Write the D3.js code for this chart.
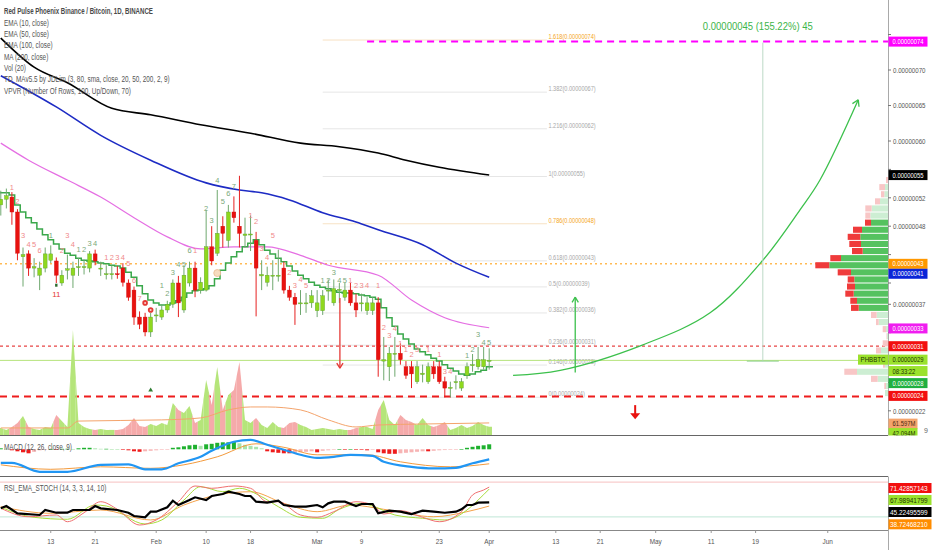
<!DOCTYPE html>
<html>
<head>
<meta charset="utf-8">
<script src="https://cdn.jsdelivr.net/npm/d3@7"></script>
<style>
  body { margin: 0; background: #fff; }
  svg { display: block; font-family: "Liberation Sans", Arial, sans-serif; }
</style>
</head>
<body>
<svg id="chart" width="932" height="550"></svg>
<script>
// day 0 = 2020-01-04, one candle per day, prices in satoshi
var START = Date.UTC(2020, 0, 4);

var opens = [51.0,51.8,52.1,50.0,43.7,44.1,42.1,41.1,42.1,43.2,
  43.1,40.0,41.8,41.1,42.2,42.2,42.1,44.1,42.0,41.2,
  41.3,41.3,42.1,40.0,39.0,35.2,35.2,33.1,35.4,35.2,
  36.2,37.0,40.0,36.2,40.0,42.1,39.0,39.0,45.1,44.2,
  48.0,46.0,50.0,48.0,46.7,46.8,46.0,41.0,40.1,41.0,
  41.0,42.1,39.0,38.0,37.1,37.1,37.2,36.1,36.1,38.9,
  37.2,39.0,38.0,39.0,37.2,37.1,36.1,36.1,37.2,29.0,
  28.2,30.0,30.1,28.2,28.2,26.1,27.1,26.1,28.2,28.2,
  26.1,25.2,26.0,25.2,27.0,28.4,28.2,28.2,29.0];
var highs = [53.0,53.3,52.8,50.4,45.0,44.6,43.5,43.0,45.0,45.3,
  43.6,41.8,44.0,43.0,43.5,43.3,44.5,44.7,43.0,42.5,
  42.5,42.4,42.8,40.5,39.5,36.0,35.8,35.8,36.5,37.0,
  37.5,40.5,41.0,42.5,43.0,43.0,40.8,50.3,48.0,53.1,
  49.4,51.0,52.2,55.1,49.2,49.5,47.2,43.2,42.3,43.2,
  44.7,43.0,39.6,38.6,39.0,38.6,39.0,39.0,39.0,40.5,
  40.5,40.0,40.0,40.0,38.5,38.5,38.0,38.0,38.0,32.4,
  31.0,32.4,31.5,29.0,29.0,29.0,28.5,28.8,29.0,29.0,
  26.8,26.1,27.0,26.6,28.8,30.0,31.0,31.0,30.8];
var lows = [49.5,50.5,48.2,43.2,39.5,41.0,40.8,39.0,41.5,42.8,
  40.0,39.6,40.5,39.3,41.0,41.2,41.5,42.5,41.0,40.5,
  40.5,40.6,39.5,37.5,34.1,33.5,32.5,32.4,34.5,34.8,
  35.8,36.5,35.2,35.8,39.5,38.0,38.5,38.8,42.5,43.8,
  45.0,45.0,48.5,45.0,45.0,44.5,35.3,39.0,39.5,39.0,
  40.2,38.5,37.5,34.1,35.5,35.8,36.5,35.2,35.5,37.5,
  36.8,37.2,37.5,36.8,35.2,36.0,35.5,35.5,26.8,26.3,
  26.2,26.8,28.5,26.5,25.2,25.8,26.0,25.8,26.5,25.8,
  23.9,23.9,25.0,24.8,26.5,27.5,27.8,27.8,27.8];
var closes = [51.8,52.3,50.0,44.2,44.0,42.1,42.3,42.1,44.1,44.1,
  41.1,41.1,42.0,42.1,42.3,42.3,44.1,43.1,42.1,41.3,
  41.3,41.2,40.1,38.0,35.2,34.2,33.1,35.2,35.5,36.2,
  37.0,40.0,37.2,41.1,42.1,39.0,40.1,45.1,43.1,47.0,
  47.0,50.0,49.2,47.0,46.9,46.9,42.1,41.2,41.1,41.1,
  41.1,39.0,38.0,37.0,37.2,37.2,38.2,37.2,38.2,39.0,
  39.2,39.1,39.0,37.2,36.2,37.2,37.2,37.2,29.2,29.2,
  30.1,30.1,29.2,27.0,27.2,28.2,27.3,28.2,27.2,26.1,
  25.2,25.3,26.1,26.1,28.2,28.5,29.2,29.2,29.1];
// volume, millions
var volumes = [36,26,41,61,97,41,31,26,41,36,
  102,71,41,536,61,41,31,26,31,26,
  26,26,31,51,87,46,41,56,46,61,
  51,163,128,112,148,61,77,281,153,347,
  128,204,230,372,77,61,87,51,36,66,
  41,36,61,66,51,41,26,31,36,31,
  26,31,26,26,36,41,41,31,128,179,
  77,51,102,77,66,51,87,51,41,51,
  66,26,36,51,36,46,66,51,42];
// green step line (TD MA)
var stepLine = [52.7,52.7,52.4,51.0,50.0,49.2,48.5,47.6,46.8,46.1,
  45.5,44.8,44.2,43.9,43.5,43.2,43.1,43.0,42.8,42.7,
  42.5,42.4,42.1,41.5,40.8,39.6,38.5,37.6,37.2,36.9,
  36.9,37.2,37.5,38.0,38.6,38.9,39.0,39.2,39.6,40.6,
  41.8,42.8,43.7,44.4,45.1,45.6,46.1,45.4,44.6,44.1,
  43.5,43.0,42.4,41.7,41.1,40.6,40.1,39.7,39.4,39.2,
  38.9,38.7,38.6,38.6,38.5,38.3,38.2,38.0,37.7,36.5,
  35.1,33.9,32.8,32.1,31.4,30.7,30.3,29.9,29.4,29.0,
  28.5,28.0,27.6,27.2,27.0,27.2,27.5,27.7,28.2];
// MACD histogram, satoshi
var macdHist = [0.2,0.1,-0.2,-0.4,-0.6,-0.8,-0.5,-0.2,-0.1,0.0,
  -0.1,0.1,0.1,0.0,0.2,0.3,0.3,0.2,0.1,0.1,
  0.05,0.0,-0.1,-0.2,-0.4,-0.5,-0.4,-0.3,-0.2,-0.1,
  -0.05,0.3,0.4,0.6,0.8,0.9,0.7,1.0,1.1,1.3,
  1.4,1.4,1.5,1.2,0.9,0.7,0.5,0.2,-0.4,-0.6,
  -0.7,-0.8,-0.8,-0.7,-0.6,-0.5,-0.4,-0.6,-0.3,-0.2,
  -0.1,0.0,-0.05,0.0,-0.1,-0.1,-0.2,-0.1,-0.6,-0.8,
  -0.9,-0.9,-0.8,-0.7,-0.6,-0.5,-0.4,-0.4,-0.3,-0.2,
  -0.15,-0.1,-0.05,0.0,0.3,0.5,0.7,0.8,1.0];

// sampled lines: [day, value]
var ma200 = [[0,74.5],[6,70.4],[12,68.2],[20,64.6],[27,63.7],[36,62.3],[45,61.1],[54,59.7],[61,59.2],[68,58.3],[73,57.3],[79,56.3],[88,55.2]];
var ema100 = [[0,69.2],[10,64.8],[18,60.8],[27,57.3],[37,54.1],[43,53.1],[47,52.7],[52,51.7],[58,49.9],[64,48.6],[68,47.5],[76,45.4],[82,42.8],[88,40.8]];
var ema50 = [[0,59.7],[5,57.3],[12,54.5],[18,52.1],[24,49.2],[30,46.5],[36,44.8],[42,45.1],[48,45.1],[54,43.9],[59,42.5],[68,41.1],[74,37.6],[80,35.1],[88,33.7]];
var volMa = [[0,36],[12,36],[14,71],[29,77],[36,87],[41,128],[45,143],[48,143],[54,128],[59,77],[64,41],[68,51],[76,56],[88,61.6]];
var macdLine = [[0,-2.7],[2,-2.7],[7,-4.5],[12,-4.5],[18,-3.1],[23,-3.0],[26,-4.0],[29,-4.0],[32,-2.8],[36,-1.5],[38,-0.3],[42,1.5],[45,1.9],[48,0.9],[51,-0.1],[54,-1.1],[57,-1.7],[60,-1.5],[63,-1.1],[67,-1.3],[69,-2.5],[74,-3.5],[78,-3.8],[82,-3.7],[85,-2.8],[88,-2.0]];
var signalLine = [[0,-3.1],[9,-4.0],[18,-3.5],[27,-3.8],[33,-3.1],[39,-1.5],[46,1.1],[51,0.4],[57,-1.1],[66,-1.1],[72,-2.5],[81,-3.5],[88,-2.9]];
var rsiMain = [[0,34.8],[1,38.8],[3,26.2],[7,23.3],[8,31.9],[10,27.2],[12,27.2],[13,31.9],[16,31.9],[17,38.8],[18,34.8],[21,31.9],[23,27.2],[24,21.6],[26,19.3],[27,29.0],[28,29.0],[30,36.6],[31,47.9],[32,40.5],[34,49.1],[35,53.8],[37,49.1],[38,56.0],[39,57.8],[40,59.5],[41,63.4],[43,59.5],[44,56.0],[45,56.0],[46,46.2],[48,44.5],[50,47.9],[51,40.5],[53,37.6],[55,37.6],[57,40.5],[58,36.6],[59,43.4],[60,46.2],[62,46.2],[64,38.8],[65,42.2],[67,42.2],[68,26.2],[70,30.7],[72,29.0],[74,25.0],[76,30.7],[78,29.0],[80,27.2],[82,29.0],[83,33.1],[84,40.5],[85,40.5],[86,44.5],[88,45.2]];
var rsiK = [[0,34.8],[5,20.3],[10,23.3],[12,11.7],[15,27.2],[18,46.2],[21,33.1],[25,6.0],[28,14.7],[32,46.2],[35,73.3],[38,69.3],[42,73.3],[45,69.3],[48,46.2],[50,46.2],[54,23.3],[57,19.3],[60,29.0],[64,46.2],[67,40.5],[69,25.0],[72,30.7],[76,19.3],[79,11.7],[83,29.0],[85,57.8],[87,66.4],[88,71.4]];
var rsiD = [[0,36.6],[6,19.3],[12,15.9],[17,40.5],[19,38.8],[26,7.8],[29,14.7],[33,49.1],[36,72.1],[40,63.4],[43,69.3],[47,54.8],[50,37.6],[54,19.3],[58,17.6],[61,33.1],[65,43.4],[67,38.8],[71,23.3],[76,17.6],[80,14.7],[84,31.9],[86,49.1],[88,68.0]];
var rsiSlow = [[0,37.6],[9,26.2],[18,31.9],[27,14.7],[33,40.5],[39,57.8],[45,63.4],[51,43.4],[57,29.0],[63,40.5],[69,33.1],[78,20.3],[84,29.0],[88,38.7]];

var priceTicks = [75,70,65,60,56,52,48,44,40,37,33,29,26,22];
var dateTicks = ["2020-01-13","2020-01-21","2020-02-01","2020-02-10","2020-02-18","2020-03-01","2020-03-09","2020-03-23","2020-04-01","2020-04-13","2020-04-21","2020-05-01","2020-05-11","2020-05-19","2020-06-01"];
var dateLabels = ["13","21","Feb","10","18","Mar","9","23","Apr","13","21","May","11","19","Jun"];

var fibLevels = [0,0.146,0.236,0.382,0.5,0.618,0.786,1,1.216,1.382,1.618];
var fibLow = 23.9, fibHigh = 55.0;

// volume profile rows: price floor, up volume, down volume
var vpPrice = [54,53,52,51,50,49,48,47,46,45,44,43,42,41,40,39,38,37,36,35,34,33,32,31,30,29,28,27,26,25,24];
var vpUp =    [0,30,37,80,163,177,170,260,277,270,253,470,587,370,337,330,343,310,293,113,93,20,10,0,70,260,30,310,103,20,30];
var vpDown =  [20,57,33,50,64,50,60,90,126,117,107,107,140,133,66,80,84,67,77,57,27,33,5,53,50,40,20,127,67,17,0];

// TD sequential counts: [day, text, price, side]
var tdLabels = [[2,"1",53.1,"r"],[3,"2",51.1,"r"],[4,"3",46.3,"r"],[5,"4",45.1,"r"],[6,"5",45.1,"r"],[7,"6",44.2,"r"],
  [9,"1",46.3,"g"],[11,"2",44.2,"r"],[12,"3",46.3,"r"],[13,"4",45.1,"r"],
  [14,"1",44.4,"g"],[15,"2",44.4,"g"],[16,"3",45.2,"g"],[17,"4",45.2,"g"],
  [19,"1",43.2,"r"],[20,"2",43.2,"r"],[21,"3",43.2,"r"],[22,"4",43.2,"r"],[23,"5",42.4,"r"],[24,"6",40.0,"r"],[25,"7",37.4,"r"],
  [29,"1",39.3,"g"],[30,"2",38.1,"g"],[31,"3",41.1,"g"],[32,"4",42.3,"g"],[33,"5",42.3,"g"],[34,"6",44.2,"g"],[35,"1",44.2,"r"],
  [37,"2",50.1,"g"],[38,"3",48.4,"g"],[39,"4",54.1,"g"],[40,"5",51.1,"g"],[41,"6",52.2,"g"],[42,"7",53.2,"g"],
  [45,"1",49.1,"r"],[46,"2",48.3,"r"],[47,"3",44.5,"r"],[48,"4",43.2,"r"],[49,"5",46.3,"r"],
  [52,"2",41.1,"r"],[53,"3",39.3,"r"],[54,"4",40.2,"r"],[55,"5",39.3,"r"],
  [58,"1",40.0,"g"],[59,"2",40.0,"g"],[60,"3",41.1,"g"],[61,"4",40.0,"g"],[62,"5",40.0,"g"],
  [63,"1",40.0,"r"],[64,"2",39.3,"r"],[65,"3",39.3,"r"],[66,"4",39.3,"r"],[68,"1",39.3,"r"],
  [69,"2",33.4,"r"],[70,"3",32.3,"r"],[71,"4",33.2,"r"],[72,"1",31.1,"r"],[73,"1",30.3,"r"],[74,"2",29.6,"r"],[75,"3",30.3,"r"],
  [77,"1",30.3,"r"],[79,"1",29.6,"r"],[80,"3",27.2,"r"],[81,"4",27.2,"r"],
  [84,"1",29.4,"g"],[85,"2",30.3,"g"],[86,"3",32.4,"g"],[87,"4",31.3,"g"],[88,"5",31.3,"g"]];

// drawings, in [day, price]
var projCurve = [[92.3,27.0],[100.8,27.7],[115.7,31.3],[127.8,35.8],[137.3,43.2],[144,50.3],[147.6,54.5],[154.5,65.8]];
var upArrow = [[103.5,27.4],[103.5,38.0]];
var downArrow = [[61.1,37.9],[61.1,28.0]];
var smallDown = [[114.3,22.8],[114.3,20.8]];
var measure = [[137.3,74.0],[137.3,29.0]];
var targetLine = [66, 74.0];

var legendLines = ["EMA (10, close)","EMA (50, close)","EMA (100, close)","MA (200, close)","Vol (20)",
  "TD_MAv5.5 by JDLim (3, 80, sma, close, 20, 50, 200, 2, 9)","VPVR (Number Of Rows, 100, Up/Down, 70)"];

var priceTags = [[74.0,"0.00000074"],[55.2,"0.00000055"],[42.7,"0.00000043"],[41.3,"0.00000041"],[33.6,"0.00000033"],
  [31.1,"0.00000031"],[29.2,"0.00000029"],[27.6,"08:33:22"],[25.9,"0.00000028"],[24.1,"0.00000024"]];
var tagColors = [["#ff00ff","#fff"],["#000","#fff"],["#ff9800","#fff"],["#0a24d8","#fff"],["#f01df0","#fff"],
  ["#f20f0f","#fff"],["#9be22d","#1b3300"],["#9be22d","#1b3300"],["#1fb040","#fff"],["#f20f0f","#fff"]];
var macdTags = ["0.00000001","-0.00000002","-0.00000003"];
var rsiTags = ["71.42857143","67.98941799","45.22495599","38.72468210"];

// ---- helpers ----
function dayF(i) { return new Date(START + i * 864e5); }
function squish(sel, f) {
  sel.each(function() {
    var w = this.getComputedTextLength();
    if (w > 0) {
      this.setAttribute("textLength", (w * f).toFixed(1));
      this.setAttribute("lengthAdjust", "spacingAndGlyphs");
    }
  });
}

var svg = d3.select("#chart");
var W = 888;

var x = d3.scaleUtc().domain([dayF(0), dayF(160)]).range([0.8, 0.8 + 160 * 5.55]);
var xi = function(i) { return x(dayF(i)); };
var yP = d3.scaleLinear().domain([22, 75]).range([410.8, 34.5]);
var yV = d3.scaleLinear().domain([0, 561]).range([435, 325]);
var yM = d3.scaleLinear().domain([-5, 2.5]).range([474.3, 436.8]);
var yR = d3.scaleLinear().domain([0, 100]).range([528.5, 470.5]);
var vpW = d3.scaleLinear().domain([0, 1000]).range([0, 100]);

svg.append("rect").attr("width", 932).attr("height", 550).attr("fill", "#fff");

svg.append("clipPath").attr("id", "mainClip")
  .append("rect").attr("x", 0).attr("y", 0).attr("width", W).attr("height", 435);
var main = svg.append("g").attr("clip-path", "url(#mainClip)");

// fib retracement
var fibG = main.append("g");
fibLevels.forEach(function(l) {
  var p = fibLow + (fibHigh - fibLow) * l;
  var warm = (l === 0.786 || l === 1.618);
  fibG.append("line")
    .attr("x1", xi(58)).attr("x2", xi(98.4))
    .attr("y1", yP(p)).attr("y2", yP(p))
    .attr("stroke", warm ? "#f7e2c4" : "#e6e6e6").attr("stroke-width", 1);
  fibG.append("text")
    .attr("x", xi(98.4) + 1.5).attr("y", yP(p) - 1)
    .text(l + "(" + (Math.round(p) / 1e8).toFixed(8) + ")")
    .style("font-size", "7px")
    .attr("fill", warm ? "#f5a623" : "#a8a8a8")
    .call(squish, 0.8);
});

// horizontal levels
main.append("line").attr("x1", 0).attr("x2", W).attr("y1", yP(42.7)).attr("y2", yP(42.7))
  .attr("stroke", "#ff9800").attr("stroke-width", 1).attr("stroke-dasharray", "2,3");
main.append("line").attr("x1", 0).attr("x2", W).attr("y1", yP(31.1)).attr("y2", yP(31.1))
  .attr("stroke", "#e84545").attr("stroke-width", 1.2).attr("stroke-dasharray", "3,3");
main.append("line").attr("x1", 0).attr("x2", W).attr("y1", yP(29.1)).attr("y2", yP(29.1))
  .attr("stroke", "#b6e37c").attr("stroke-width", 1);
main.append("line").attr("x1", 0).attr("x2", W).attr("y1", yP(24.0)).attr("y2", yP(24.0))
  .attr("stroke", "#ee1c1c").attr("stroke-width", 2).attr("stroke-dasharray", "7,5");
main.append("line").attr("x1", xi(targetLine[0])).attr("x2", W)
  .attr("y1", yP(targetLine[1])).attr("y2", yP(targetLine[1]))
  .attr("stroke", "#ff00ff").attr("stroke-width", 2).attr("stroke-dasharray", "7,5");

// volume area, each day coloured by candle direction
var half = 2.775;
volumes.forEach(function(v, i) {
  var prev = i > 0 ? (volumes[i - 1] + v) / 2 : v;
  var next = i < volumes.length - 1 ? (volumes[i + 1] + v) / 2 : v;
  var cx = xi(i);
  var pts = [[cx - half, yV(0)], [cx - half, yV(prev)], [cx, yV(v)], [cx + half, yV(next)], [cx + half, yV(0)]];
  main.append("path")
    .attr("d", "M" + pts.join("L") + "Z")
    .attr("fill", closes[i] >= opens[i] ? "#b5e57a" : "#f5aaaa");
});
main.append("path").datum(volMa)
  .attr("d", d3.line().x(function(d) { return xi(d[0]); }).y(function(d) { return yV(d[1]); }).curve(d3.curveMonotoneX))
  .attr("fill", "none").attr("stroke", "#f4a46c").attr("stroke-width", 1);

// volume profile
vpPrice.forEach(function(p, k) {
  var inVA = p >= 36 && p <= 48;
  var y0 = yP(p + 1) + 0.5, h = yP(p) - yP(p + 1) - 1;
  var wu = vpW(vpUp[k]), wd = vpW(vpDown[k]);
  main.append("rect").attr("x", W - wu).attr("y", y0).attr("width", wu).attr("height", h)
    .attr("fill", inVA ? "#55c25f" : "#cdeed3");
  main.append("rect").attr("x", W - wu - wd).attr("y", y0).attr("width", wd).attr("height", h)
    .attr("fill", inVA ? "#ef3b3b" : "#f8c6c6");
});

// moving averages
var lineP = d3.line().x(function(d) { return xi(d[0]); }).y(function(d) { return yP(d[1]); }).curve(d3.curveMonotoneX);
main.append("path").datum(ma200).attr("d", lineP).attr("fill", "none").attr("stroke", "#000").attr("stroke-width", 1.6);
main.append("path").datum(ema100).attr("d", lineP).attr("fill", "none").attr("stroke", "#1d2bc4").attr("stroke-width", 1.6);
main.append("path").datum(ema50).attr("d", lineP).attr("fill", "none").attr("stroke", "#e56fe3").attr("stroke-width", 1.2);

// step line
var stepPts = stepLine.map(function(v, i) { return [xi(i) - half, yP(v)]; });
stepPts.push([xi(stepLine.length - 1) + half + 1, yP(stepLine[stepLine.length - 1])]);
main.append("path").datum(stepPts)
  .attr("d", d3.line().curve(d3.curveStepAfter))
  .attr("fill", "none").attr("stroke", "#3aa84b").attr("stroke-width", 1.5);

// candles
var candles = main.append("g");
opens.forEach(function(o, i) {
  var c = closes[i], up = c >= o, cx = xi(i);
  candles.append("line")
    .attr("x1", cx).attr("x2", cx)
    .attr("y1", yP(highs[i])).attr("y2", yP(lows[i]))
    .attr("stroke", up ? "#6fa86f" : "#e62020").attr("stroke-width", 1);
  var top = yP(Math.max(o, c)), bot = yP(Math.min(o, c));
  candles.append("rect")
    .attr("x", cx - 1.9).attr("y", top)
    .attr("width", 3.8).attr("height", Math.max(1, bot - top))
    .attr("fill", up ? "#8fd81e" : "#e8120f")
    .attr("stroke", up ? "#5aa02e" : "#d10d0d").attr("stroke-width", 0.4);
});

// TD count labels
tdLabels.forEach(function(t) {
  main.append("text")
    .attr("x", xi(t[0])).attr("y", yP(t[2]))
    .attr("text-anchor", "middle")
    .text(t[1])
    .style("font-size", "7.5px")
    .attr("fill", t[3] === "g" ? "#7aa97a" : "#f08a8a");
});
main.append("text").attr("x", xi(10)).attr("y", yP(38.0)).attr("text-anchor", "middle")
  .text("11").style("font-size", "8px").attr("fill", "#e53935");
main.append("rect").attr("x", xi(10) - 1.2).attr("y", yP(39.9)).attr("width", 2.4).attr("height", 3).attr("fill", "#2e6b2e");
[[26, 37.2], [27, 36.2]].forEach(function(d) {
  main.append("circle").attr("cx", xi(d[0])).attr("cy", yP(d[1])).attr("r", 2.8).attr("fill", "#e53935");
  main.append("circle").attr("cx", xi(d[0])).attr("cy", yP(d[1])).attr("r", 1).attr("fill", "#fbd0d0");
});
main.append("circle").attr("cx", xi(39)).attr("cy", yP(41.4)).attr("r", 3.5)
  .attr("fill", "#f7dcc0").attr("stroke", "#e9b98f").attr("stroke-width", 0.8);
main.append("path")
  .attr("d", d3.symbol().type(d3.symbolTriangle).size(10)())
  .attr("transform", "translate(" + xi(27) + "," + yP(24.9) + ")")
  .attr("fill", "#2e7d32");

// drawings
function chevron(g, tip, from, color, len) {
  var a = Math.atan2(tip[1] - from[1], tip[0] - from[0]);
  [-0.55, 0.55].forEach(function(s) {
    g.append("line")
      .attr("x1", tip[0]).attr("y1", tip[1])
      .attr("x2", tip[0] - len * Math.cos(a + s)).attr("y2", tip[1] - len * Math.sin(a + s))
      .attr("stroke", color).attr("stroke-width", 1.3);
  });
}
var curvePx = projCurve.map(function(d) { return [xi(d[0]), yP(d[1])]; });
main.append("path").datum(curvePx)
  .attr("d", d3.line().curve(d3.curveCatmullRom))
  .attr("fill", "none").attr("stroke", "#3cc04c").attr("stroke-width", 1.3);
chevron(main, curvePx[curvePx.length - 1], curvePx[curvePx.length - 2], "#3cc04c", 7);

var upPx = upArrow.map(function(d) { return [xi(d[0]), yP(d[1])]; });
main.append("line").attr("x1", upPx[0][0]).attr("y1", upPx[0][1]).attr("x2", upPx[1][0]).attr("y2", upPx[1][1])
  .attr("stroke", "#3cc04c").attr("stroke-width", 1.3);
chevron(main, upPx[1], upPx[0], "#3cc04c", 6);

var dnPx = downArrow.map(function(d) { return [xi(d[0]), yP(d[1])]; });
main.append("line").attr("x1", dnPx[0][0]).attr("y1", dnPx[0][1]).attr("x2", dnPx[1][0]).attr("y2", dnPx[1][1])
  .attr("stroke", "#e53935").attr("stroke-width", 1.3);
chevron(main, dnPx[1], dnPx[0], "#e53935", 6);

var sdx = xi(smallDown[0][0]), sdy0 = yP(smallDown[0][1]), sdy1 = yP(smallDown[1][1]);
main.append("line").attr("x1", sdx).attr("x2", sdx).attr("y1", sdy0).attr("y2", sdy1 - 4)
  .attr("stroke", "#e8120f").attr("stroke-width", 2);
main.append("path")
  .attr("d", "M" + (sdx - 5) + "," + (sdy1 - 6) + "L" + (sdx + 5) + "," + (sdy1 - 6) + "L" + sdx + "," + sdy1 + "Z")
  .attr("fill", "#e8120f");

var mx = xi(measure[0][0]);
main.append("line").attr("x1", mx).attr("x2", mx).attr("y1", yP(measure[0][1]) + 1).attr("y2", yP(measure[1][1]))
  .attr("stroke", "#bcd9c6").attr("stroke-width", 1);
main.append("line").attr("x1", mx - 16).attr("x2", mx + 16).attr("y1", yP(measure[1][1])).attr("y2", yP(measure[1][1]))
  .attr("stroke", "#8ccf8c").attr("stroke-width", 1);
main.append("text").attr("x", mx - 5).attr("y", yP(75.6))
  .attr("text-anchor", "middle")
  .text("0.00000045 (155.22%) 45")
  .style("font-size", "10px").attr("fill", "#3cb54a")
  .call(squish, 0.95);

// legend
svg.append("text").attr("x", 4).attr("y", 14)
  .text("Red Pulse Phoenix Binance / Bitcoin, 1D, BINANCE")
  .style("font-size", "8.5px").style("font-weight", "bold").attr("fill", "#4a4a4a")
  .call(squish, 0.72);
legendLines.forEach(function(t, k) {
  svg.append("text").attr("x", 4).attr("y", 25.7 + k * 11.35)
    .text(t).style("font-size", "8.5px").attr("fill", "#555")
    .call(squish, 0.75);
});

// right axis: price ticks (skip the ones hidden under value tags)
var axisG = svg.append("g");
axisG.append("line").attr("x1", W + 0.5).attr("x2", W + 0.5).attr("y1", 0).attr("y2", 550)
  .attr("stroke", "#a9a9a9").attr("stroke-width", 1);
var tagYs = priceTags.map(function(t) { return yP(t[0]); });
priceTicks.forEach(function(p) {
  var ty = yP(p);
  axisG.append("line").attr("x1", W).attr("x2", W + 3).attr("y1", ty).attr("y2", ty).attr("stroke", "#777");
  var hidden = tagYs.some(function(t) { return Math.abs(t - ty) < 10; });
  if (hidden) return;
  axisG.append("text").attr("x", W + 5).attr("y", ty + 2.7)
    .text((p / 1e8).toFixed(8)).style("font-size", "7.5px").attr("fill", "#555")
    .call(squish, 0.82);
});

function tag(y, text, bg, fg, w, fs, tx, f) {
  axisG.append("rect").attr("x", W + 0.5).attr("y", y - 5).attr("width", w).attr("height", 10).attr("fill", bg);
  axisG.append("text").attr("x", tx || W + 4.5).attr("y", y + 2.6).text(text)
    .style("font-size", (fs || 7.5) + "px").attr("fill", fg)
    .call(squish, f || 0.78);
}
priceTags.forEach(function(t, k) {
  tag(yP(t[0]), t[1], tagColors[k][0], tagColors[k][1], 39);
});
// symbol box
axisG.append("rect").attr("x", W - 30).attr("y", yP(29.2) - 5).attr("width", 30).attr("height", 10).attr("fill", "#9be22d");
axisG.append("text").attr("x", W - 15).attr("y", yP(29.2) + 2.7).attr("text-anchor", "middle").text("PHBBTC")
  .style("font-size", "7.5px").attr("fill", "#1b3300").call(squish, 0.82);
// volume tags
tag(yV(58), "61.597M", "#f4a46c", "#4a2a10", 29);
tag(yV(10), "42.094M", "#9be22d", "#1b3300", 29);
axisG.append("text").attr("x", 924).attr("y", 433).text("9").style("font-size", "7px").attr("fill", "#666");

// MACD pane
var macdG = svg.append("g");
macdG.append("rect").attr("x", 0).attr("y", 435.5).attr("width", 932).attr("height", 41).attr("fill", "#fff");
macdG.append("line").attr("x1", 0).attr("x2", W).attr("y1", 435.5).attr("y2", 435.5).attr("stroke", "#666");
macdHist.forEach(function(h, i) {
  var prev = i > 0 ? macdHist[i - 1] : h;
  var col;
  if (h >= 0) col = h >= prev ? "#1eb12e" : "#a9e3ac";
  else col = h <= prev ? "#ee1c1c" : "#f7b4b4";
  var y0 = yM(Math.max(0, h)), y1 = yM(Math.min(0, h));
  macdG.append("rect").attr("x", xi(i) - 2).attr("y", y0).attr("width", 4).attr("height", Math.max(0.6, y1 - y0)).attr("fill", col);
});
var lineM = d3.line().x(function(d) { return xi(d[0]); }).y(function(d) { return yM(d[1]); }).curve(d3.curveMonotoneX);
macdG.append("path").datum(signalLine).attr("d", lineM).attr("fill", "none").attr("stroke", "#f39a3c").attr("stroke-width", 1);
macdG.append("path").datum(macdLine).attr("d", lineM).attr("fill", "none").attr("stroke", "#2196f3").attr("stroke-width", 2.2);
macdG.append("text").attr("x", 4).attr("y", 449.5).text("MACD (12, 26, close, 9)")
  .style("font-size", "8.5px").attr("fill", "#555").call(squish, 0.75);
var macdTagY = [443.5, 457.5, 469.5];
var macdTagC = ["#1fb040", "#2196f3", "#f57c00"];
macdTags.forEach(function(t, k) { tag(macdTagY[k], t, macdTagC[k], "#fff", 41, 6.8, W + 2.5, 0.95); });

// RSI pane
var rsiG = svg.append("g");
rsiG.append("line").attr("x1", 0).attr("x2", W).attr("y1", 476.5).attr("y2", 476.5).attr("stroke", "#666");
rsiG.append("line").attr("x1", 0).attr("x2", W).attr("y1", yR(80)).attr("y2", yR(80)).attr("stroke", "#f6c0c0");
rsiG.append("line").attr("x1", 0).attr("x2", W).attr("y1", yR(20)).attr("y2", yR(20)).attr("stroke", "#bfe6d6");
var lineR = d3.line().x(function(d) { return xi(d[0]); }).y(function(d) { return yR(d[1]); });
rsiG.append("path").datum(rsiSlow).attr("d", lineR.curve(d3.curveMonotoneX)).attr("fill", "none").attr("stroke", "#f5a24a").attr("stroke-width", 1);
rsiG.append("path").datum(rsiD).attr("d", lineR.curve(d3.curveMonotoneX)).attr("fill", "none").attr("stroke", "#a8dc3c").attr("stroke-width", 1);
rsiG.append("path").datum(rsiK).attr("d", lineR.curve(d3.curveMonotoneX)).attr("fill", "none").attr("stroke", "#f07070").attr("stroke-width", 1);
rsiG.append("path").datum(rsiMain).attr("d", lineR.curve(d3.curveLinear)).attr("fill", "none").attr("stroke", "#000").attr("stroke-width", 2.2);
rsiG.append("text").attr("x", 4).attr("y", 491).text("RSI_EMA_STOCH (14, 3, 3, 14, 10)")
  .style("font-size", "8.5px").attr("fill", "#555").call(squish, 0.75);
var rsiTagY = [488, 500, 512, 524.3];
var rsiTagC = [["#f20f0f", "#fff"], ["#9be22d", "#1b3300"], ["#000", "#fff"], ["#ff8c00", "#fff"]];
rsiTags.forEach(function(t, k) { tag(rsiTagY[k], t, rsiTagC[k][0], rsiTagC[k][1], 43, 6.8, W + 2, 0.95); });

// time axis
var parse = d3.utcParse("%Y-%m-%d");
svg.append("line").attr("x1", 0).attr("x2", W).attr("y1", 530.5).attr("y2", 530.5).attr("stroke", "#888");
dateTicks.forEach(function(d, k) {
  var tx = x(parse(d));
  svg.append("line").attr("x1", tx).attr("x2", tx).attr("y1", 530.5).attr("y2", 533).attr("stroke", "#999");
  svg.append("text").attr("x", tx).attr("y", 543.5).attr("text-anchor", "middle")
    .text(dateLabels[k]).style("font-size", "8px").attr("fill", "#555")
    .call(squish, 0.8);
});
</script>
</body>
</html>
